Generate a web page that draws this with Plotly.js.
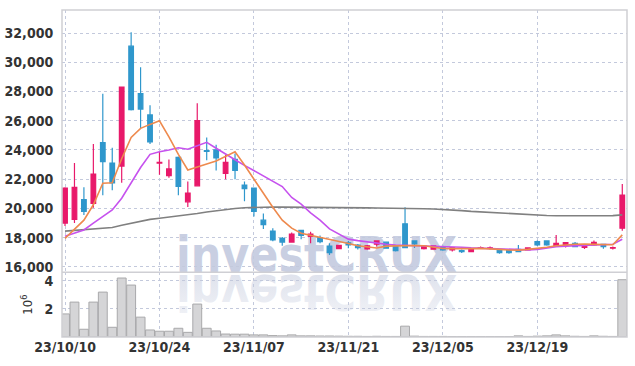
<!DOCTYPE html>
<html><head><meta charset="utf-8">
<script src="https://cdn.plot.ly/plotly-3.0.1.min.js"></script>
<style>
html,body{margin:0;padding:0;background:#fff;}
#wrap{position:relative;width:635px;height:366px;}
#wm{position:absolute;left:0;top:0;z-index:0;}
#chart{position:absolute;left:0;top:0;width:635px;height:366px;z-index:1;}
</style></head>
<body>
<div id="wrap">
<svg id="wm" width="635" height="366">
 <defs>
  <linearGradient id="fade" x1="0" y1="0" x2="0" y2="1">
   <stop offset="0" stop-color="#d9dde9" stop-opacity="0.35"/>
   <stop offset="1" stop-color="#d9dde9" stop-opacity="0.95"/>
  </linearGradient>
 </defs>
 <text x="176" y="272" textLength="281" lengthAdjust="spacingAndGlyphs" font-family="DejaVu Sans" font-weight="bold" font-size="50" fill="#c9cfe2">investCRUX</text>
 <g transform="translate(0,547) scale(1,-1)">
  <text x="176" y="272" textLength="281" lengthAdjust="spacingAndGlyphs" font-family="DejaVu Sans" font-weight="bold" font-size="50" fill="url(#fade)">investCRUX</text>
 </g>
</svg>
<div id="chart"></div>
</div>
<script>
const dates = ['2023-10-10','2023-10-11','2023-10-12','2023-10-13','2023-10-16','2023-10-17','2023-10-18','2023-10-19','2023-10-20','2023-10-23',
'2023-10-24','2023-10-25','2023-10-26','2023-10-27','2023-10-30','2023-10-31','2023-11-01','2023-11-02','2023-11-03','2023-11-06',
'2023-11-07','2023-11-08','2023-11-09','2023-11-10','2023-11-13','2023-11-14','2023-11-15','2023-11-16','2023-11-17','2023-11-20',
'2023-11-21','2023-11-22','2023-11-23','2023-11-24','2023-11-27','2023-11-28','2023-11-29','2023-11-30','2023-12-01','2023-12-04',
'2023-12-05','2023-12-06','2023-12-07','2023-12-08','2023-12-11','2023-12-12','2023-12-13','2023-12-14','2023-12-15','2023-12-18',
'2023-12-19','2023-12-20','2023-12-21','2023-12-22','2023-12-26','2023-12-27','2023-12-28','2024-01-02','2024-01-03','2024-01-04'];

const openP = [19000,19250,20600,20350,24500,23100,22900,31100,27850,26400,
23100,22250,23500,20450,21550,23950,24000,22400,23350,21600,
21400,19200,18450,17950,17700,18500,18080,18000,17430,17250,
17650,17500,17230,17550,17690,17450,18950,17780,17250,17210,
17390,17160,17110,17050,17280,17280,17110,17110,17210,17160,
17730,17780,17440,17460,17620,17340,17500,17550,17280,18650];
const highP = [21450,23100,21450,24400,27850,24150,28300,32050,29650,27050,
23900,23350,23550,21850,27200,24850,24350,23650,23750,21850,
21400,19650,18650,18050,18350,18550,18400,18150,17620,17500,
17780,17560,17500,17800,17700,17500,20080,17780,17450,17450,
17450,17360,17200,17250,17400,17400,17150,17150,17500,17320,
17800,17800,18190,17680,17700,17550,17800,17560,17400,21670];
const lowP = [18800,19000,19550,20050,20900,21250,21750,26700,25500,24400,
22300,22100,20900,20100,21550,23300,22600,22000,22000,20500,
19450,18600,17750,17450,17650,17900,17620,17620,16820,17250,
17280,17200,17180,17400,17250,17050,17320,17300,17200,17200,
17100,17050,16950,17000,17230,17200,16900,16900,17000,17130,
17430,17450,17400,17330,17350,17230,17450,17250,17200,18480];
const closeP = [21400,21450,19800,22350,23200,21750,28300,26750,26800,24550,
23150,22700,21500,21050,26000,23900,23450,23150,22600,21350,
19800,18900,17850,17700,18250,18150,18250,17730,16980,17480,
17500,17320,17450,17780,17280,17120,17320,17570,17430,17440,
17160,17320,17050,17230,17320,17310,16980,16980,17050,17300,
17500,17500,17620,17660,17390,17500,17680,17390,17320,20920];

const ma5 = [17950,18550,19200,20250,21720,21760,23400,24850,25480,25750,
26000,24900,23700,22630,22860,23040,23250,23540,23880,22970,
22000,21050,20080,19200,18650,18300,18150,18030,17900,17750,
17600,17450,17350,17300,17420,17440,17480,17470,17450,17350,
17260,17250,17230,17250,17270,17260,17200,17160,17150,17200,
17250,17350,17450,17520,17550,17560,17540,17530,17520,18190];
const ma10 = [18100,18300,18530,19000,19450,19900,20700,21800,22800,23700,
23880,24000,24150,24050,24300,24520,24120,23700,23330,22950,
22600,22200,21850,21500,20750,20300,19700,19200,18600,18250,
17900,17800,17700,17600,17550,17500,17480,17450,17440,17430,
17420,17380,17350,17300,17280,17250,17220,17200,17160,17170,
17200,17300,17390,17420,17450,17470,17500,17520,17550,17890];
const ma60 = [18450,18500,18550,18600,18650,18700,18850,19000,19150,19250,
19330,19400,19480,19555,19650,19760,19850,19930,20000,20050,
20080,20100,20100,20090,20090,20080,20080,20070,20060,20060,
20050,20040,20040,20030,20030,20020,20010,20000,19980,19960,
19940,19900,19850,19800,19760,19720,19680,19640,19600,19570,
19550,19520,19500,19500,19490,19480,19480,19490,19510,19560];

const volumeM = [1.64,2.48,0.55,2.48,3.19,0.69,4.19,3.69,1.41,0.50,
0.41,0.41,0.62,0.33,2.34,0.62,0.43,0.21,0.20,0.20,
0.15,0.15,0.10,0.08,0.15,0.08,0.08,0.07,0.07,0.06,
0.05,0.05,0.04,0.05,0.04,0.04,0.77,0.06,0.04,0.04,
0.04,0.03,0.03,0.03,0.03,0.03,0.03,0.03,0.08,0.04,
0.06,0.08,0.15,0.08,0.05,0.04,0.08,0.05,0.04,4.07];

const tickDates = ['2023-10-10','2023-10-24','2023-11-07','2023-11-21','2023-12-05','2023-12-19'];
const tickLabels = ['23/10/10','23/10/24','23/11/07','23/11/21','23/12/05','23/12/19'];
const priceTicks = [16000,18000,20000,22000,24000,26000,28000,30000,32000];
const volTicks = [2,4];

const UP = '#e8196a', DOWN = '#2f97cc';
const tickFont = {family:'Liberation Sans Narrow, DejaVu Sans Condensed, Arial Narrow, sans-serif', size:14, color:'#333', weight:'bold'};

const traces = [
 {type:'bar', x:dates, y:volumeM, xaxis:'x', yaxis:'y2',
  marker:{color:'#d5d5d7', line:{color:'#a9a9ab', width:1}}, hoverinfo:'skip'},
 {type:'scatter', mode:'lines', x:dates, y:ma60, xaxis:'x', yaxis:'y', line:{color:'#808080', width:1.6}},
 {type:'scatter', mode:'lines', x:dates, y:ma10, xaxis:'x', yaxis:'y', line:{color:'#c652ee', width:1.6}},
 {type:'scatter', mode:'lines', x:dates, y:ma5, xaxis:'x', yaxis:'y', line:{color:'#ee8a4e', width:1.6}},
 {type:'candlestick', x:dates, open:openP, high:highP, low:lowP, close:closeP, xaxis:'x', yaxis:'y',
  increasing:{line:{color:UP, width:1.2}, fillcolor:UP},
  decreasing:{line:{color:DOWN, width:1.2}, fillcolor:DOWN}, whiskerwidth:0}
];

const layout = {
 width:635, height:366,
 margin:{l:62, r:8, t:10, b:29},
 paper_bgcolor:'rgba(0,0,0,0)', plot_bgcolor:'rgba(0,0,0,0)',
 showlegend:false,
 bargap:0.06,
 xaxis:{type:'category', anchor:'y2', range:[-0.32,59.5], tickmode:'array', tickvals:tickDates, ticktext:tickLabels,
  tickfont:tickFont, showgrid:true, gridcolor:'#c3c9dc', griddash:'dot', gridwidth:1,
  rangeslider:{visible:false}, showline:false, zeroline:false, ticks:'', ticklen:2},
 yaxis:{domain:[0.198,1], range:[15636,33573], tickmode:'array', tickvals:priceTicks, tickformat:',d',
  tickfont:tickFont, showgrid:true, gridcolor:'#c3c9dc', griddash:'dot', zeroline:false,
  ticks:'outside', ticklen:5, tickcolor:'rgba(0,0,0,0)'},
 yaxis2:{domain:[0,0.198], range:[0,4.6], tickmode:'array', tickvals:volTicks,
  tickfont:tickFont, showgrid:true, gridcolor:'#c3c9dc', griddash:'dot', zeroline:false,
  ticks:'outside', ticklen:5, tickcolor:'rgba(0,0,0,0)',
  title:{text:'10<sup>6</sup>', font:{family:'DejaVu Sans Condensed, sans-serif', size:13, color:'#333'}, standoff:8}},
 shapes:[
  {type:'rect', xref:'paper', yref:'paper', x0:0, x1:1, y0:0, y1:1, line:{color:'#cfcfd4', width:1.5}},
  {type:'line', xref:'paper', yref:'paper', x0:0, x1:1, y0:0.198, y1:0.198, line:{color:'#cfcfd4', width:1.5}}
 ]
};
Plotly.newPlot('chart', traces, layout, {displayModeBar:false, staticPlot:true});
</script>
</body></html>
